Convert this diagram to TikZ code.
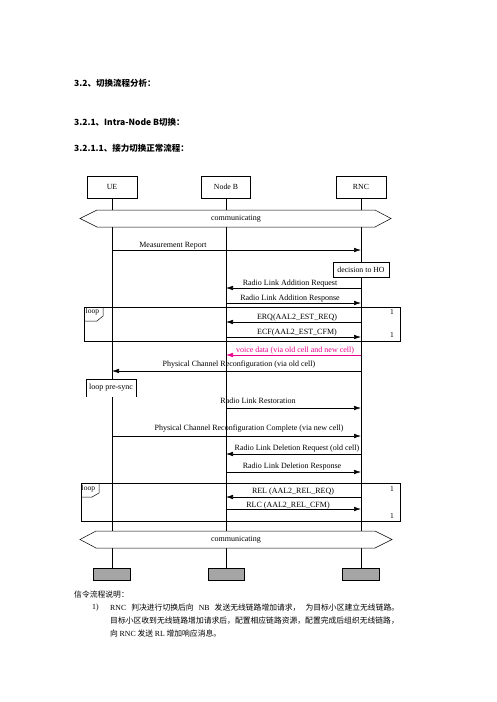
\documentclass[tikz,border=0pt]{standalone}
\usepackage{fontspec}
\setmainfont{Liberation Serif}
\newfontfamily\cjk{Noto Sans CJK SC}
\usetikzlibrary{arrows.meta}
\definecolor{endgray}{RGB}{165,165,165}
\begin{document}
\begin{tikzpicture}[x=1pt,y=-1pt,
  actorbox/.style={draw,line width=0.5pt,minimum width=50pt,minimum height=22pt,inner sep=0pt,font=\fontsize{7.8}{8}\selectfont},
  endbox/.style={draw,line width=0.4pt,fill=endgray,minimum width=37pt,minimum height=12pt,inner sep=0pt},
  lifeline/.style={line width=0.5pt},
  msg/.style={line width=0.6pt,-{Latex[length=7pt,width=4.5pt]}},
  lbl/.style={font=\fontsize{8}{9}\selectfont,inner sep=0pt,anchor=base},
  small/.style={font=\fontsize{8}{9}\selectfont,inner sep=0pt},
  tiny/.style={font=\fontsize{7.5}{8}\selectfont,inner sep=0pt},
  hexa/.style={draw,line width=0.5pt,fill=white},
  loopbox/.style={draw,line width=0.6pt},
  head/.style={font=\cjk\bfseries\fontsize{8.5}{10}\selectfont,anchor=west,inner sep=0pt},
  body/.style={font=\cjk\fontsize{7.8}{9}\selectfont,anchor=west,inner sep=0pt}
]
\useasboundingbox (0,0) rectangle (496,702);

% headings
\node[head] (h1) at (74,83) {3.2、切换流程分析：};
\node[head] (h2) at (74,122) {3.2.1、Intra-Node B切换：};
\node[head] (h3) at (74,148) {3.2.1.1、接力切换正常流程：};

% actors
\node[actorbox] (ue) at (112,187) {UE};
\node[actorbox,minimum width=49pt] (nb) at (226,187) {Node B};
\node[actorbox] (rnc) at (361,187) {RNC};
\node[endbox] (ueE) at (112,574) {};
\node[endbox,minimum width=36pt] (nbE) at (226,574) {};
\node[endbox] (rncE) at (361,574) {};

% lifelines
\draw[lifeline] (ue) -- (ueE);
\draw[lifeline] (nb) -- (nbE);
\draw[lifeline] (rnc) -- (rncE);

% communicating hexagons
\draw[hexa] (80,218.5) -- (97,210) -- (375,210) -- (391,218.5) -- (375,227) -- (97,227) -- cycle;
\node[small] (c1) at (236,218.5) {communicating};
\draw[hexa] (80,539.5) -- (96,531) -- (375,531) -- (392,539.5) -- (375,548) -- (96,548) -- cycle;
\node[small] (c2) at (236,539.5) {communicating};

% coordinates on lifelines
\foreach \n/\y in {a/250,b/288,c/303,d/322,e/337,f/355,g/371,h/408,i/436,j/454,k/472,l/497,m/509}{
  \coordinate (U\n) at (112,\y);
  \coordinate (N\n) at (226,\y);
  \coordinate (R\n) at (361,\y);
}

% decision note
\node[draw,line width=0.5pt,fill=white,minimum width=56pt,minimum height=15pt,inner sep=0pt,font=\fontsize{7.8}{8}\selectfont] (dec) at (361,269.5) {decision to HO};

% loop 1
\draw[loopbox] (84,307) rectangle (400,341);
\draw[line width=0.5pt] (84,321) -- (97,321) -- (103,316) -- (103,307);
\node[tiny,anchor=west] (lp1) at (85.5,312) {loop};
\node[tiny] (n1a) at (392,312) {1};
\node[tiny] (n1b) at (392,335) {1};

% loop 2
\draw[loopbox] (81,483) rectangle (400,521);
\draw[line width=0.5pt] (81,497) -- (92,497) -- (99,493) -- (99,483);
\node[tiny,anchor=west] (lp2) at (81.5,489) {loop};
\node[tiny] (n2a) at (392,489) {1};
\node[tiny] (n2b) at (392,516) {1};

% loop pre-sync
\draw[line width=0.5pt,fill=white] (86,397) -- (86,379) -- (136,379) -- (136,397);
\node[small] (ps) at (111,388) {loop pre-sync};

% messages
\draw[msg] (Ua) -- (Ra); \node[lbl] (la) at (173,247.5) {Measurement Report};
\draw[msg] (Rb) -- (Nb); \node[lbl] (lb) at (290,285.5) {Radio Link Addition Request};
\draw[msg] (Nc) -- (Rc); \node[lbl] (lc) at (290,300.5) {Radio Link Addition Response};
\draw[msg] (Rd) -- (Nd); \node[lbl] (ld) at (297,319.5) {ERQ(AAL2\_EST\_REQ)};
\draw[msg] (Ne) -- (Re); \node[lbl] (le) at (297,334.5) {ECF(AAL2\_EST\_CFM)};
\draw[msg,magenta] (Rf) -- (Nf); \node[lbl,text=magenta] (lf) at (295,352.5) {voice data (via old cell and new cell)};
\draw[msg] (Rg) -- (Ug); \node[lbl] (lg) at (239,366.5) {Physical Channel Reconfiguration (via old cell)};
\draw[msg] (Nh) -- (Rh); \node[lbl] (lh) at (258,403.5) {Radio Link Restoration};
\draw[msg] (Ui) -- (Ri); \node[lbl] (li) at (249,430.5) {Physical Channel Reconfiguration Complete (via new cell)};
\draw[msg] (Rj) -- (Nj); \node[lbl] (lj) at (297,450.5) {Radio Link Deletion Request (old cell)};
\draw[msg] (Nk) -- (Rk); \node[lbl] (lk) at (292,468.5) {Radio Link Deletion Response};
\draw[msg] (Rl) -- (Nl); \node[lbl] (ll) at (293,493.5) {REL (AAL2\_REL\_REQ)};
\draw[msg] (Nm) -- (Rm); \node[lbl] (lm) at (288,507) {RLC (AAL2\_REL\_CFM)};

% explanation
\node[body] (t0) at (74,595) {信令流程说明：};
\node[body] (t1n) at (92,608) {{\rmfamily 1)}};
\node[body] (t1) at (110,608) {\makebox[289pt][s]{{\rmfamily RNC} 判决进行切换后向 {\rmfamily NB} 发送无线链路增加请求， 为目标小区建立无线链路。}};
\node[body] (t2) at (110,621) {目标小区收到无线链路增加请求后，配置相应链路资源，配置完成后组织无线链路，};
\node[body] (t3) at (110,634) {向 {\rmfamily RNC} 发送 {\rmfamily RL} 增加响应消息。};
\end{tikzpicture}
\end{document}
